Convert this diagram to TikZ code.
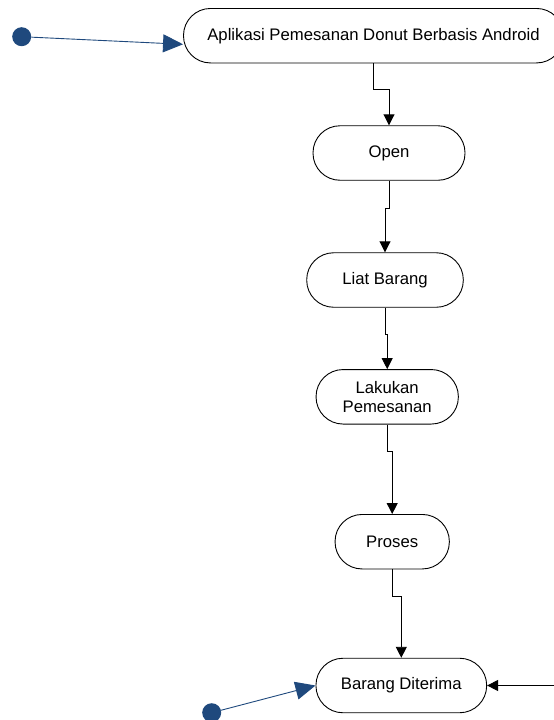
\documentclass[tikz,border=0pt]{standalone}
\usepackage{fontspec}
\setmainfont{Liberation Sans}
\usetikzlibrary{arrows.meta,calc}
\definecolor{dotblue}{RGB}{31,73,125}
\begin{document}
\begin{tikzpicture}[x=1pt,y=-1pt,
  state/.style={draw=black,line width=0.9pt,rounded corners=27pt,inner sep=0pt,
    minimum height=54.5pt,align=center,font=\fontsize{16.7}{18.5}\selectfont},
  startdot/.style={circle,fill=dotblue,inner sep=0pt,minimum size=19pt},
  flow/.style={draw=black,line width=0.9pt,-{Triangle[length=11pt,width=11pt]}},
  initflow/.style={draw=dotblue,line width=0.9pt,-{Triangle[length=20pt,width=18pt]}}]
\useasboundingbox (0,0) rectangle (554,720);
\node[state,minimum width=380pt] (A) at (373.5,35.7) {Aplikasi Pemesanan Donut Berbasis Android};
\node[state,minimum width=152pt] (O) at (389,153) {Open};
\node[state,minimum width=156.6pt] (L) at (385,280) {Liat Barang};
\node[state,minimum width=142.3pt] (P) at (387.2,396.8) {Lakukan\\Pemesanan};
\node[state,minimum width=114.3pt] (R) at (392.2,541.7) {Proses};
\node[state,minimum width=170.7pt] (B) at (401.3,685.5) {Barang Diterima};
\node[startdot] (s1) at (21.7,36.7) {};
\node[startdot] (s2) at (211.7,712.7) {};
\coordinate (rin) at (556,685.5);
\draw[flow] (A.south) -- ++(0,26.3) -| (O.north);
\draw[flow] (O.south) -- ++(0,27.3) -| (L.north);
\draw[flow] (L.south) -- ++(0,26.6) -| (P.north);
\draw[flow] (P.south) -- ++(0,27.4) -| (R.north);
\draw[flow] (R.south) -- ++(0,27) -| (B.north);
\draw[flow] (rin) -- (B.east);
\draw[initflow] (s1) -- ([yshift=-8.6pt]A.west);
\draw[initflow] (s2) -- (B.west);
\end{tikzpicture}
\end{document}
